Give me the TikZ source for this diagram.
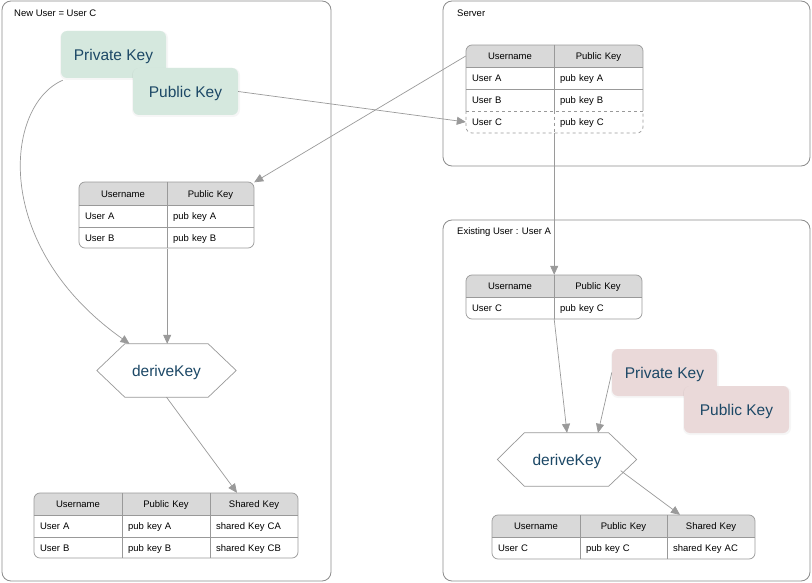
\documentclass[tikz,border=0pt]{standalone}
\usepackage{fontspec}
\setmainfont{Liberation Sans}
\usetikzlibrary{arrows.meta}
\definecolor{frame}{HTML}{8C8C8C}
\definecolor{tline}{HTML}{999999}
\definecolor{hdr}{HTML}{D9D9D9}
\definecolor{keytext}{HTML}{1C4866}
\definecolor{greenkey}{HTML}{D5E8DE}
\definecolor{redkey}{HTML}{EAD9D9}
\definecolor{arr}{HTML}{9A9A9A}
\tikzset{
  container/.style={draw=frame, line width=0.8pt, rounded corners=9pt},
  ctitle/.style={anchor=west, font=\fontsize{9.5}{11}\selectfont, inner sep=0pt},
  keybox/.style={rounded corners=6pt, minimum width=105pt, minimum height=47pt, inner sep=0pt,
     text=keytext, font=\fontsize{15.5}{18}\selectfont, text height=15pt, text depth=3pt},
  keyshadow/.style={fill=black, opacity=0.035, rounded corners=7pt},
  cellc/.style={minimum height=22pt, inner sep=0pt, text width=#1, align=center,
     font=\fontsize{9.5}{11}\selectfont, text height=9.5pt, text depth=2pt},
  celll/.style={minimum height=22pt, inner xsep=6pt, inner ysep=0pt, text width=#1-12pt, align=left,
     font=\fontsize{9.5}{11}\selectfont, text height=9.5pt, text depth=2pt},
  tbl/.style={draw=tline, line width=0.7pt},
  conn/.style={draw=arr, line width=0.7pt, -{Triangle[length=9pt,width=8pt]}},
  hexlabel/.style={minimum width=139pt, minimum height=53pt, inner sep=0pt, text=keytext,
     font=\fontsize{15.5}{18}\selectfont, text height=15pt, text depth=3pt},
}
\newcommand\tabframe[5]{%
  \begin{scope}\clip[rounded corners=6pt] (#1,#2) rectangle (#3,#4);
  \fill[hdr] (#1,#2) rectangle (#3,#5);\end{scope}}
\begin{document}
\begin{tikzpicture}[x=1pt,y=-1pt]
\useasboundingbox (0,0) rectangle (812,583);
\fill[white] (0,0) rectangle (812,583);

% containers
\draw[container] (2,1) rectangle (331,581);
\draw[container] (443,1) rectangle (810,166);
\draw[container] (443,220) rectangle (810,581);
\node[ctitle] (t1) at (14,13) {New User = User C};
\node[ctitle] (t2) at (457,13) {Server};
\node[ctitle] (t3) at (457,232) {Existing User : User A};

% ---------- keys left
\fill[keyshadow] (60,31) rectangle (168,80);
\node[keybox, fill=greenkey] (pkl) at (113.5,54.5) {Private Key};
\fill[keyshadow] (132,68) rectangle (240,117);
\node[keybox, fill=greenkey] (publ) at (185.5,91.5) {Public Key};

% ---------- keys right
\fill[keyshadow] (611,349) rectangle (719,398);
\node[keybox, fill=redkey] (pkr) at (664.5,372.5) {Private Key};
\fill[keyshadow] (683,386) rectangle (791,435);
\node[keybox, fill=redkey] (pubr) at (736.5,409.5) {Public Key};

% ---------- server table
\tabframe{466}{45}{643}{133}{67}
\draw[tbl, rounded corners=6pt] (466,111) -- (466,45) -- (643,45) -- (643,111);
\draw[tbl, dashed, rounded corners=6pt] (466,111) -- (466,133) -- (643,133) -- (643,111);
\draw[tbl] (466,67) -- (643,67) (466,89) -- (643,89) (554,45) -- (554,111);
\draw[tbl, dashed] (466,111) -- (643,111) (554,111) -- (554,133);
\node[cellc=88pt] (sh1) at (510,56) {Username};
\node[cellc=89pt] (sh2) at (598.5,56) {Public Key};
\node[celll=88pt] (sa1) at (510,78) {User A};
\node[celll=89pt] (sa2) at (598.5,78) {pub key A};
\node[celll=88pt] (sb1) at (510,100) {User B};
\node[celll=89pt] (sb2) at (598.5,100) {pub key B};
\node[celll=88pt] (sc1) at (510,122) {User C};
\node[celll=89pt] (sc2) at (598.5,122) {pub key C};

% ---------- left middle table
\tabframe{79}{182}{254}{248}{205}
\draw[tbl, rounded corners=6pt] (79,182) rectangle (254,248);
\draw[tbl] (79,205) -- (254,205) (79,227) -- (254,227) (167,182) -- (167,248);
\node[cellc=88pt] (lh1) at (123,193.5) {Username};
\node[cellc=87pt] (lh2) at (210.5,193.5) {Public Key};
\node[celll=88pt] (la1) at (123,216) {User A};
\node[celll=87pt] (la2) at (210.5,216) {pub key A};
\node[celll=88pt] (lb1) at (123,237.5) {User B};
\node[celll=87pt] (lb2) at (210.5,237.5) {pub key B};

% ---------- left hexagon
\node[hexlabel] (dkl) at (166.5,370.5) {deriveKey};
\draw[tbl] (dkl.west) -- ([xshift=28pt]dkl.north west) -- ([xshift=-28pt]dkl.north east)
  -- (dkl.east) -- ([xshift=-28pt]dkl.south east) -- ([xshift=28pt]dkl.south west) -- cycle;

% ---------- bottom left table
\tabframe{34}{493}{298}{558}{515}
\draw[tbl, rounded corners=6pt] (34,493) rectangle (298,558);
\draw[tbl] (34,515) -- (298,515) (34,537) -- (298,537) (122,493) -- (122,558) (210,493) -- (210,558);
\node[cellc=88pt] (bh1) at (78,504) {Username};
\node[cellc=88pt] (bh2) at (166,504) {Public Key};
\node[cellc=88pt] (bh3) at (254,504) {Shared Key};
\node[celll=88pt] (ba1) at (78,526) {User A};
\node[celll=88pt] (ba2) at (166,526) {pub key A};
\node[celll=88pt] (ba3) at (254,526) {shared Key CA};
\node[celll=88pt] (bb1) at (78,547.5) {User B};
\node[celll=88pt] (bb2) at (166,547.5) {pub key B};
\node[celll=88pt] (bb3) at (254,547.5) {shared Key CB};

% ---------- right middle table
\tabframe{466}{275}{642}{319}{297}
\draw[tbl, rounded corners=6pt] (466,275) rectangle (642,319);
\draw[tbl] (466,297) -- (642,297) (554,275) -- (554,319);
\node[cellc=88pt] (rh1) at (510,286) {Username};
\node[cellc=88pt] (rh2) at (598,286) {Public Key};
\node[celll=88pt] (rr1) at (510,308) {User C};
\node[celll=88pt] (rr2) at (598,308) {pub key C};

% ---------- right hexagon
\node[hexlabel] (dkr) at (567,459.5) {deriveKey};
\draw[tbl] (dkr.west) -- ([xshift=27pt]dkr.north west) -- ([xshift=-28pt]dkr.north east)
  -- (dkr.east) -- ([xshift=-28pt]dkr.south east) -- ([xshift=27pt]dkr.south west) -- cycle;

% ---------- bottom right table
\tabframe{492}{515}{755}{559}{537}
\draw[tbl, rounded corners=6pt] (492,515) rectangle (755,559);
\draw[tbl] (492,537) -- (755,537) (580,515) -- (580,559) (667,515) -- (667,559);
\node[cellc=88pt] (qh1) at (536,526) {Username};
\node[cellc=87pt] (qh2) at (623.5,526) {Public Key};
\node[cellc=88pt] (qh3) at (711,526) {Shared Key};
\node[celll=88pt] (qa1) at (536,548) {User C};
\node[celll=87pt] (qa2) at (623.5,548) {pub key C};
\node[celll=88pt] (qa3) at (711,548) {shared Key AC};

% ---------- connectors
\draw[conn] (sh1.west) -- (lh2.north east);
\draw[conn] (publ.east) -- (sc1.west);
\draw[conn] ([xshift=2pt,yshift=-2pt]pkl.south west) .. controls (5,105) and (-10,245) .. ([xshift=-37pt]dkl.north);
\draw[conn] (lb1.south east) -- (lb1.south east |- dkl.north);
\draw[conn] (dkl.south) -- ([xshift=-17pt]bh3.north);
\draw[conn] (sc1.south east) -- (rh1.north east);
\draw[conn] (rr1.south east) -- (dkr.north);
\draw[conn] (pkr.west) -- ([xshift=31pt]dkr.north);
\draw[conn] ([xshift=-16pt,yshift=15.5pt]dkr.south east) -- ([xshift=-31pt]qh3.north);
\end{tikzpicture}
\end{document}
